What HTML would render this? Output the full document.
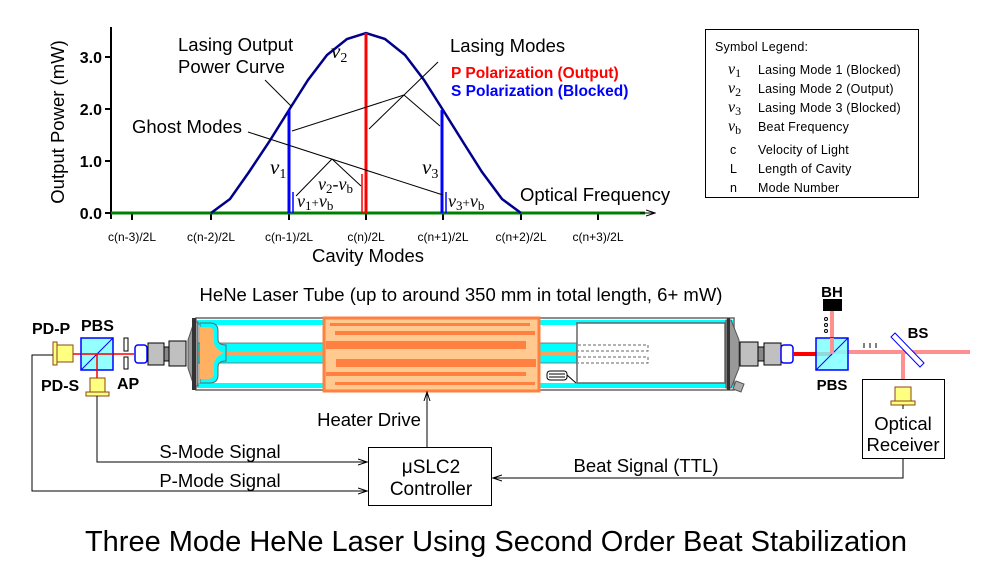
<!DOCTYPE html>
<html><head><meta charset="utf-8"><style>
html,body{margin:0;padding:0;background:#fff}
svg{display:block}
text{font-family:"Liberation Sans",Arial,sans-serif;fill:#000}
.nu{font-family:"Liberation Serif",serif;font-style:italic}
</style></head><body>
<svg width="998" height="587" viewBox="0 0 998 587" xmlns="http://www.w3.org/2000/svg">
<defs>
<marker id="ar" markerWidth="10" markerHeight="8" refX="9" refY="4" orient="auto" markerUnits="userSpaceOnUse"><path d="M0,1 L9,4 L0,7 M3,2 L9,4 L3,6" fill="none" stroke="#000" stroke-width="1"/></marker>
</defs>

<!-- ===== GRAPH ===== -->
<line x1="111" y1="27" x2="111" y2="219" stroke="#000" stroke-width="2"/>
<g stroke="#000" stroke-width="2">
<line x1="105" y1="213" x2="111" y2="213"/><line x1="105" y1="161" x2="111" y2="161"/>
<line x1="105" y1="109" x2="111" y2="109"/><line x1="105" y1="57" x2="111" y2="57"/>
<line x1="132" y1="213" x2="132" y2="220"/><line x1="211" y1="213" x2="211" y2="220"/>
<line x1="289" y1="213" x2="289" y2="220"/><line x1="366" y1="213" x2="366" y2="220"/>
<line x1="443" y1="213" x2="443" y2="220"/><line x1="521" y1="213" x2="521" y2="220"/>
<line x1="598" y1="213" x2="598" y2="220"/>
</g>
<g font-size="16" font-weight="bold" text-anchor="end">
<text x="102" y="219">0.0</text><text x="102" y="167">1.0</text>
<text x="102" y="115">2.0</text><text x="102" y="63">3.0</text>
</g>
<text transform="translate(64,122) rotate(-90)" font-size="18.5" text-anchor="middle">Output Power (mW)</text>
<line x1="111" y1="213" x2="645" y2="213" stroke="#008000" stroke-width="3"/>
<line x1="640" y1="213" x2="655" y2="213" stroke="#000" stroke-width="1" marker-end="url(#ar)"/>
<polyline fill="none" stroke="#00008B" stroke-width="2.5" points="211,213 230,199 249,172 269,142 289,110 308,80 327,55 347,39 366,33 385,39 405,55 424,80 443,110 463,142 482,172 502,199 521,213"/>
<line x1="289" y1="213" x2="289" y2="110" stroke="#0000FF" stroke-width="3"/>
<line x1="442" y1="213" x2="442" y2="110" stroke="#0000FF" stroke-width="3"/>
<line x1="366" y1="213" x2="366" y2="33" stroke="#FF0000" stroke-width="3"/>
<line x1="293" y1="213" x2="293" y2="192" stroke="#0000FF" stroke-width="1.5"/>
<line x1="446" y1="213" x2="446" y2="192" stroke="#0000FF" stroke-width="1.5"/>
<line x1="362" y1="213" x2="362" y2="174" stroke="#FF0000" stroke-width="1.5"/>
<g stroke="#000" stroke-width="1">
<line x1="438" y1="62" x2="369" y2="129"/>
<line x1="404" y1="95" x2="292" y2="131"/>
<line x1="404" y1="95" x2="440" y2="126"/>
<line x1="248" y1="132" x2="443" y2="195"/>
<line x1="332" y1="159" x2="296" y2="196"/>
<line x1="332" y1="159" x2="361" y2="186"/>
<line x1="265" y1="80" x2="291" y2="106"/>
</g>
<text x="178" y="51" font-size="18.5">Lasing Output</text>
<text x="178" y="73" font-size="18.5">Power Curve</text>
<text x="132" y="133" font-size="18.5">Ghost Modes</text>
<text x="450" y="52" font-size="18.5">Lasing Modes</text>
<text x="451" y="78" font-size="15.5" font-weight="bold" style="fill:#FF0000">P Polarization (Output)</text>
<text x="451" y="96" font-size="15.5" font-weight="bold" style="fill:#0000FF">S Polarization (Blocked)</text>
<text x="520" y="201" font-size="18.5">Optical Frequency</text>
<text class="nu" x="331" y="58" font-size="21">ν<tspan font-size="14" dy="4" font-style="normal">2</tspan></text>
<text class="nu" x="270" y="174" font-size="21">ν<tspan font-size="14" dy="4" font-style="normal">1</tspan></text>
<text class="nu" x="422" y="174" font-size="21">ν<tspan font-size="14" dy="4" font-style="normal">3</tspan></text>
<text class="nu" x="318" y="190" font-size="18">ν<tspan font-size="13" dy="3" font-style="normal">2</tspan><tspan dy="-3" font-style="normal">-</tspan><tspan>ν</tspan><tspan font-size="13" dy="3" font-style="normal">b</tspan></text>
<text class="nu" x="297" y="207" font-size="18">ν<tspan font-size="13" dy="3" font-style="normal">1</tspan><tspan dy="-3" font-size="13" font-style="normal">+</tspan><tspan>ν</tspan><tspan font-size="13" dy="3" font-style="normal">b</tspan></text>
<text class="nu" x="448" y="207" font-size="18">ν<tspan font-size="13" dy="3" font-style="normal">3</tspan><tspan dy="-3" font-size="13" font-style="normal">+</tspan><tspan>ν</tspan><tspan font-size="13" dy="3" font-style="normal">b</tspan></text>
<g font-size="12" text-anchor="middle">
<text x="132" y="241">c(n-3)/2L</text><text x="211" y="241">c(n-2)/2L</text>
<text x="289" y="241">c(n-1)/2L</text><text x="366" y="241">c(n)/2L</text>
<text x="443" y="241">c(n+1)/2L</text><text x="521" y="241">c(n+2)/2L</text>
<text x="598" y="241">c(n+3)/2L</text>
</g>
<text x="368" y="262" font-size="18.5" text-anchor="middle">Cavity Modes</text>

<rect x="705.5" y="29.5" width="213" height="168" fill="#fff" stroke="#000" stroke-width="1"/>
<g font-size="12.5" letter-spacing="0.2">
<text x="715" y="51">Symbol Legend:</text>
<text x="758" y="74">Lasing Mode 1 (Blocked)</text>
<text x="758" y="93">Lasing Mode 2 (Output)</text>
<text x="758" y="112">Lasing Mode 3 (Blocked)</text>
<text x="758" y="131">Beat Frequency</text>
<text x="730" y="154">c</text><text x="758" y="154">Velocity of Light</text>
<text x="730" y="173">L</text><text x="758" y="173">Length of Cavity</text>
<text x="730" y="192">n</text><text x="758" y="192">Mode Number</text>
</g>
<text class="nu" x="728" y="74" font-size="16">ν<tspan font-size="12" dy="3" font-style="normal">1</tspan></text>
<text class="nu" x="728" y="93" font-size="16">ν<tspan font-size="12" dy="3" font-style="normal">2</tspan></text>
<text class="nu" x="728" y="112" font-size="16">ν<tspan font-size="12" dy="3" font-style="normal">3</tspan></text>
<text class="nu" x="728" y="131" font-size="16">ν<tspan font-size="12" dy="3" font-style="normal">b</tspan></text>

<!-- ===== OPTICS ===== -->
<text x="461" y="301" font-size="18.5" text-anchor="middle">HeNe Laser Tube (up to around 350 mm in total length, 6+ mW)</text>

<rect x="196" y="318" width="538" height="72" fill="#fff" stroke="#666" stroke-width="1.5"/>
<rect x="197" y="320" width="536" height="5" fill="#00FFFF"/>
<rect x="197" y="383" width="536" height="5" fill="#00FFFF"/>
<rect x="197" y="343" width="380" height="20" fill="#00FFFF" stroke="#666" stroke-width="0.8"/>
<rect x="197" y="351" width="380" height="4" fill="#F4A460"/>
<path d="M200,323 h10 q8,0 8,8 v8 q0,6 8,6 v16 q-8,0 -8,6 v8 q0,8 -8,8 h-10z" fill="#00FFFF" stroke="#666"/>
<path d="M200,327 h8 q6,0 6,6 v8 q0,8 10,12 q-10,4 -10,12 v8 q0,6 -6,6 h-8z" fill="#FFB060"/>
<path d="M188,340 L194,322 h4 v64 h-4 L188,368z" fill="#999" stroke="#555"/>
<rect x="192" y="318" width="4" height="72" fill="#333"/>
<rect x="324" y="318" width="215" height="73" fill="#FFC990" stroke="#FF8040" stroke-width="3"/>
<g fill="#FF8040">
<rect x="330" y="323" width="200" height="3"/><rect x="335" y="331" width="200" height="4"/>
<rect x="326" y="341" width="200" height="8"/><rect x="336" y="359" width="200" height="8"/>
<rect x="326" y="372" width="200" height="4"/><rect x="335" y="382" width="200" height="3"/>
</g>
<rect x="577" y="323" width="148" height="60" fill="#fff" stroke="#666" stroke-width="1.5"/>
<g stroke="#666" stroke-dasharray="3,2" fill="none"><path d="M578,345 h70 v6 h-70 M578,357 h70 v6 h-70"/></g>
<rect x="547" y="371" width="20" height="9" rx="3" fill="#fff" stroke="#000"/>
<path d="M549,374 h16 M549,377 h16 M567,375 l9,8" stroke="#000" fill="none"/>
<path d="M726,320 h5 l8,20 v28 l-8,20 h-5z" fill="#999" stroke="#555"/>
<rect x="727" y="318" width="3" height="72" fill="#333"/>
<path d="M736,381 l8,3 -3,8 -8,-3z" fill="#aaa" stroke="#555"/>
<rect x="740" y="342" width="18" height="24" fill="#c0c0c0" stroke="#000"/>
<rect x="758" y="347" width="6" height="14" fill="#888" stroke="#000"/>
<rect x="764" y="343" width="17" height="22" fill="#c0c0c0" stroke="#000"/>
<rect x="781" y="345" width="12" height="18" rx="3" fill="#fff" stroke="#0000FF" stroke-width="1.5"/>
<line x1="793" y1="354" x2="832" y2="354" stroke="#FF0000" stroke-width="4"/>
<line x1="832" y1="311" x2="832" y2="352" stroke="#FF9090" stroke-width="4"/>
<line x1="832" y1="352" x2="970" y2="352" stroke="#FF9090" stroke-width="4"/>
<line x1="903" y1="352" x2="903" y2="388" stroke="#FF9090" stroke-width="4"/>
<rect x="816" y="338" width="32" height="32" fill="#80FFFF" stroke="#0000FF" stroke-width="1.5" fill-opacity="0.85"/>
<line x1="816" y1="370" x2="848" y2="338" stroke="#0000FF"/>
<line x1="832" y1="338" x2="832" y2="354" stroke="#FF9090" stroke-width="4"/>
<rect x="823" y="299" width="19" height="12" fill="#000"/>
<g fill="#fff" stroke="#000"><circle cx="826" cy="319" r="1.5"/><circle cx="826" cy="325" r="1.5"/><circle cx="826" cy="331" r="1.5"/></g>
<path d="M864,343 v5 M870,343 v5 M876,343 v5" stroke="#000"/>
<path d="M891,337 l4,-4 29,30 -4,4z" fill="#fff" stroke="#0000FF"/>
<text x="832" y="297" font-size="15" font-weight="bold" text-anchor="middle">BH</text>
<text x="832" y="390" font-size="15" font-weight="bold" text-anchor="middle">PBS</text>
<text x="918" y="338" font-size="15" font-weight="bold" text-anchor="middle">BS</text>
<rect x="862.5" y="379.5" width="82" height="79" fill="#fff" stroke="#000"/>
<rect x="895" y="387" width="16" height="14" fill="#FFFF80" stroke="#8B4513"/>
<rect x="891" y="401" width="24" height="4" fill="#FFFF80" stroke="#8B4513"/>
<line x1="903" y1="405" x2="903" y2="409" stroke="#000"/>
<text x="903" y="430" font-size="18.5" text-anchor="middle">Optical</text>
<text x="903" y="451" font-size="18.5" text-anchor="middle">Receiver</text>

<line x1="72" y1="354" x2="134" y2="354" stroke="#FF0000" stroke-width="1.5"/>
<rect x="81" y="338" width="32" height="32" fill="#80FFFF" stroke="#0000FF" stroke-width="1.5" fill-opacity="0.85"/>
<line x1="81" y1="370" x2="113" y2="338" stroke="#0000FF"/>
<line x1="81" y1="354" x2="113" y2="354" stroke="#FF0000" stroke-width="1.5"/>
<line x1="97" y1="354" x2="97" y2="378" stroke="#FF0000" stroke-width="1.5"/>
<rect x="57" y="345" width="16" height="17" fill="#FFFF80" stroke="#8B4513"/>
<rect x="53" y="342" width="4" height="23" fill="#FFFF80" stroke="#8B4513"/>
<rect x="90" y="378" width="15" height="14" fill="#FFFF80" stroke="#8B4513"/>
<rect x="86" y="392" width="23" height="4" fill="#FFFF80" stroke="#8B4513"/>
<rect x="124" y="338" width="4" height="13" fill="#fff" stroke="#000"/>
<rect x="124" y="357" width="4" height="12" fill="#fff" stroke="#000"/>
<rect x="135" y="345" width="12" height="18" rx="3" fill="#fff" stroke="#0000FF" stroke-width="1.5"/>
<rect x="148" y="343" width="16" height="22" fill="#c0c0c0" stroke="#000"/>
<rect x="164" y="347" width="5" height="14" fill="#888" stroke="#000"/>
<rect x="169" y="341" width="17" height="25" fill="#c0c0c0" stroke="#000"/>
<text x="32" y="334" font-size="16" font-weight="bold">PD-P</text>
<text x="81" y="331" font-size="16" font-weight="bold">PBS</text>
<text x="41" y="391" font-size="16" font-weight="bold">PD-S</text>
<text x="117" y="389" font-size="16" font-weight="bold">AP</text>

<g fill="none" stroke="#000" stroke-width="1">
<polyline points="53,355 32,355 32,491 367,491" marker-end="url(#ar)"/>
<polyline points="97,396 97,462 367,462" marker-end="url(#ar)"/>
<polyline points="903,459 903,478 493,478" marker-end="url(#ar)"/>
<line x1="427" y1="447" x2="427" y2="392" marker-end="url(#ar)"/>
</g>
<rect x="368.5" y="447.5" width="123" height="58" fill="#fff" stroke="#000"/>
<text x="431" y="473" font-size="19" text-anchor="middle">μSLC2</text>
<text x="431" y="495" font-size="19" text-anchor="middle">Controller</text>
<text x="369" y="426" font-size="18.5" text-anchor="middle">Heater Drive</text>
<text x="220" y="458" font-size="18.5" text-anchor="middle">S-Mode Signal</text>
<text x="220" y="487" font-size="18.5" text-anchor="middle">P-Mode Signal</text>
<text x="646" y="472" font-size="18.5" text-anchor="middle">Beat Signal (TTL)</text>

<text x="496" y="551" font-size="29" text-anchor="middle">Three Mode HeNe Laser Using Second Order Beat Stabilization</text>
</svg>
</body></html>
